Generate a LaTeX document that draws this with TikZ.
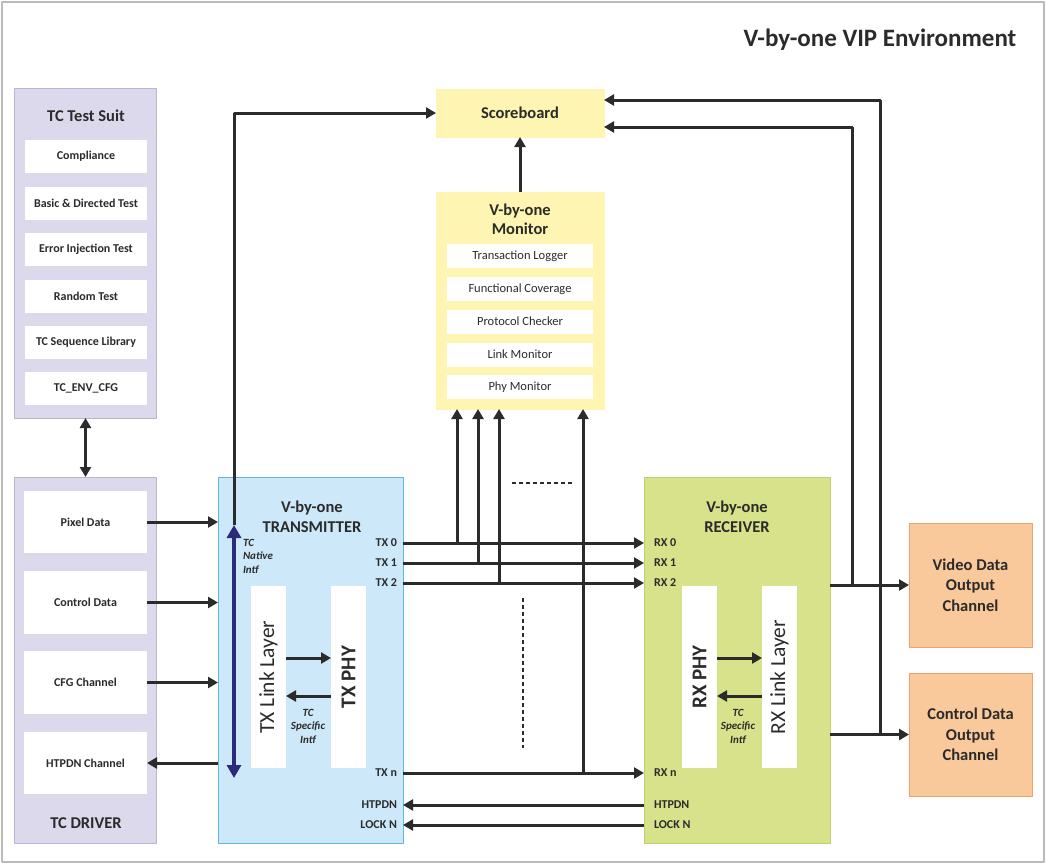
\documentclass[tikz,border=0pt]{standalone}
\usepackage{fontspec}
\setmainfont{Carlito}
\usetikzlibrary{arrows.meta}

\definecolor{framegray}{HTML}{BBBBBB}
\definecolor{linedark}{HTML}{2B2B2B}
\definecolor{suitefill}{HTML}{DCD9ED}
\definecolor{suiteline}{HTML}{BAB4D6}
\definecolor{txfill}{HTML}{CDE8F8}
\definecolor{txline}{HTML}{62B5DD}
\definecolor{rxfill}{HTML}{D7E28A}
\definecolor{rxline}{HTML}{C0D169}
\definecolor{sbfill}{HTML}{FDF5B1}
\definecolor{outfill}{HTML}{F9C89B}
\definecolor{outline}{HTML}{E8A46C}
\definecolor{natblue}{HTML}{2C2A7C}

\begin{document}
\begin{tikzpicture}[x=1bp, y=1bp, line join=round,
  grpbox/.style={draw, line width=1bp, inner sep=0pt, outer sep=0pt},
  wbox/.style={fill=white, inner sep=0pt, outer sep=0pt, text=linedark,
    font=\bfseries\fontsize{12bp}{14bp}\selectfont},
  mbox/.style={wbox, minimum width=146bp, minimum height=24bp,
    font=\fontsize{12.5bp}{14bp}\selectfont},
  hdr/.style={inner sep=0pt, outer sep=0pt, align=center, text=linedark,
    font=\bfseries\fontsize{16.5bp}{20bp}\selectfont},
  pin/.style={inner sep=0pt, outer sep=0pt, text=linedark,
    font=\bfseries\fontsize{12bp}{14bp}\selectfont},
  intf/.style={inner sep=0pt, outer sep=0pt, text=linedark,
    font=\bfseries\itshape\fontsize{11bp}{13.5bp}\selectfont},
  layer/.style={fill=white, inner sep=0pt, outer sep=0pt, minimum width=35bp,
    minimum height=182bp, text=linedark},
  arr/.style={draw=linedark, line width=3bp, -{Triangle[length=10bp, width=11bp]}},
  dblarr/.style={draw=linedark, line width=3bp,
    {Triangle[length=10bp, width=11bp]}-{Triangle[length=10bp, width=11bp]}},
  dotline/.style={draw=linedark, line width=1.5bp, dash pattern=on 4bp off 3bp}]
  \useasboundingbox (0,0) rectangle (1048,-866);
  \path[draw=framegray, line width=1.5bp] (2,-2) rectangle (1044,-862);

  % title
  \node[inner sep=0pt, text=linedark, font=\bfseries\fontsize{25bp}{30bp}\selectfont] (ttl) at (880,-40) {V-by-one VIP Environment};

  % test suite
  \node[grpbox, fill=suitefill, draw=suiteline, minimum width=141bp, minimum height=329bp] (suite) at (85.5,-253.5) {};
  \node[hdr] (suitet) at (86,-116) {TC Test Suit};
  \node[wbox, minimum width=122bp, minimum height=33bp] (cmp) at (86,-156.5) {Compliance};
  \node[wbox, minimum width=122bp, minimum height=33bp] (bdt) at (86,-203.5) {Basic \& Directed Test};
  \node[wbox, minimum width=122bp, minimum height=33bp] (eit) at (86,-249.5) {Error Injection Test};
  \node[wbox, minimum width=122bp, minimum height=33bp] (rnd) at (86,-296) {Random Test};
  \node[wbox, minimum width=122bp, minimum height=33bp] (seq) at (86,-342.5) {TC Sequence Library};
  \node[wbox, minimum width=122bp, minimum height=33bp] (env) at (86,-388.5) {TC\_ENV\_CFG};

  % driver
  \node[grpbox, fill=suitefill, draw=suiteline, minimum width=141bp, minimum height=366bp] (drv) at (85.5,-660) {};
  \node[hdr] (drvt) at (86,-823) {TC DRIVER};
  \node[wbox, minimum width=123bp, minimum height=62bp] (pix) at (85.5,-522) {Pixel Data};
  \node[wbox, minimum width=123bp, minimum height=63bp] (ctd) at (85.5,-602.5) {Control Data};
  \node[wbox, minimum width=123bp, minimum height=63bp] (cfg) at (85.5,-682.5) {CFG Channel};
  \node[wbox, minimum width=123bp, minimum height=62bp] (hpd) at (85.5,-763) {HTPDN Channel};

  % transmitter
  \node[grpbox, fill=txfill, draw=txline, minimum width=185bp, minimum height=366bp] (tx) at (310.5,-660) {};
  \node[hdr] (txt) at (312,-517) {V-by-one\\TRANSMITTER};
  \node[layer] (txlink) at (268.5,-677) {};
  \node[rotate=90, inner sep=0pt, text=linedark, font=\fontsize{21.5bp}{24bp}\selectfont] at (txlink) {TX Link Layer};
  \node[layer] (txphy) at (348.5,-677) {};
  \node[rotate=90, inner sep=0pt, text=linedark, font=\bfseries\fontsize{21bp}{24bp}\selectfont] at (txphy) {TX PHY};
  \node[intf, anchor=north west, align=left] (natl) at (243,-539) {TC\\Native\\Intf};
  \node[intf, align=center] (txsp) at (308,-726) {TC\\Specific\\Intf};
  \node[pin, anchor=east] (tx0) at (397,-543) {TX 0};
  \node[pin, anchor=east] (tx1) at (397,-563) {TX 1};
  \node[pin, anchor=east] (tx2) at (397,-583) {TX 2};
  \node[pin, anchor=east] (txn) at (397,-773) {TX n};
  \node[pin, anchor=east] (txh) at (397,-805) {HTPDN};
  \node[pin, anchor=east] (txk) at (397,-825) {LOCK N};

  % receiver
  \node[grpbox, fill=rxfill, draw=rxline, minimum width=186bp, minimum height=366bp] (rx) at (737,-660) {};
  \node[hdr] (rxt) at (737,-517) {V-by-one\\RECEIVER};
  \node[layer] (rxphy) at (699.5,-677) {};
  \node[rotate=90, inner sep=0pt, text=linedark, font=\bfseries\fontsize{21bp}{24bp}\selectfont] at (rxphy) {RX PHY};
  \node[layer] (rxlink) at (779.5,-677) {};
  \node[rotate=90, inner sep=0pt, text=linedark, font=\fontsize{21.5bp}{24bp}\selectfont] at (rxlink) {RX Link Layer};
  \node[intf, align=center] (rxsp) at (738,-726) {TC\\Specific\\Intf};
  \node[pin, anchor=west] (rx0) at (654,-543) {RX 0};
  \node[pin, anchor=west] (rx1) at (654,-563) {RX 1};
  \node[pin, anchor=west] (rx2) at (654,-583) {RX 2};
  \node[pin, anchor=west] (rxn) at (654,-773) {RX n};
  \node[pin, anchor=west] (rxh) at (654,-805) {HTPDN};
  \node[pin, anchor=west] (rxk) at (654,-825) {LOCK N};

  % scoreboard and monitor
  \node[grpbox, fill=sbfill, draw=sbfill, minimum width=168bp, minimum height=48bp, text=linedark,
    font=\bfseries\fontsize{16.5bp}{20bp}\selectfont] (sb) at (520,-113) {Scoreboard};
  \node[grpbox, fill=sbfill, draw=sbfill, minimum width=168bp, minimum height=217bp] (mon) at (520,-300.5) {};
  \node[hdr, font=\bfseries\fontsize{16.5bp}{19bp}\selectfont] (mont) at (520,-219.5) {V-by-one\\Monitor};
  \node[mbox] (tlog) at (520,-256) {Transaction Logger};
  \node[mbox] (fcov) at (520,-289) {Functional Coverage};
  \node[mbox] (pchk) at (520,-321.5) {Protocol Checker};
  \node[mbox] (lmon) at (520,-354.5) {Link Monitor};
  \node[mbox] (pmon) at (520,-387) {Phy Monitor};

  % output channels
  \node[grpbox, fill=outfill, draw=outline, minimum width=123bp, minimum height=124bp, align=center,
    text=linedark, font=\bfseries\fontsize{16.5bp}{20.5bp}\selectfont] (vid) at (970.5,-585) {Video Data\\Output\\Channel};
  \node[grpbox, fill=outfill, draw=outline, minimum width=123bp, minimum height=123bp, align=center,
    text=linedark, font=\bfseries\fontsize{16.5bp}{20.5bp}\selectfont] (ctl) at (970.5,-734.5) {Control Data\\Output\\Channel};

  % driver side
  \draw[dblarr] (suite.south) -- (drv.north);
  \draw[arr] (pix.east) -- (pix.east -| tx.west);
  \draw[arr] (ctd.east) -- (ctd.east -| tx.west);
  \draw[arr] (cfg.east) -- (cfg.east -| tx.west);
  \draw[arr] (hpd.east -| tx.west) -- (hpd.east);

  % native interface
  \coordinate (ntop) at (234,-525);
  \coordinate (nbot) at (234,-778);
  \draw[arr] (ntop) |- (sb.west);
  \draw[natblue, line width=4.5bp, {Triangle[length=13bp, width=14bp]}-{Triangle[length=13bp, width=14bp]}] (nbot) -- (ntop);

  % layer links
  \draw[arr] ([yshift=19bp]txlink.east) -- ([yshift=19bp]txphy.west);
  \draw[arr] ([yshift=-19bp]txphy.west) -- ([yshift=-19bp]txlink.east);
  \draw[arr] ([yshift=19bp]rxphy.east) -- ([yshift=19bp]rxlink.west);
  \draw[arr] ([yshift=-19bp]rxlink.west) -- ([yshift=-19bp]rxphy.east);

  % lanes
  \draw[arr] (tx.east |- tx0) -- (rx.west |- tx0);
  \draw[arr] (tx.east |- tx1) -- (rx.west |- tx1);
  \draw[arr] (tx.east |- tx2) -- (rx.west |- tx2);
  \draw[arr] (tx.east |- txn) -- (rx.west |- txn);
  \draw[arr] (rx.west |- txh) -- (tx.east |- txh);
  \draw[arr] (rx.west |- txk) -- (tx.east |- txk);

  % monitor taps
  \coordinate (tap0) at (457,-543);
  \coordinate (tap1) at (478,-563);
  \coordinate (tap2) at (499,-583);
  \coordinate (tapn) at (583,-773);
  \draw[arr] (tap0) -- (tap0 |- mon.south);
  \draw[arr] (tap1) -- (tap1 |- mon.south);
  \draw[arr] (tap2) -- (tap2 |- mon.south);
  \draw[arr] (tapn) -- (tapn |- mon.south);
  \draw[arr] (mon.north) -- (sb.south);
  \draw[dotline] (512,-483) -- (572,-483);
  \draw[dotline] (523,-598) -- (523,-748);

  % outputs
  \draw[arr] (rx.east |- vid.west) -- (vid.west);
  \draw[arr] (rx.east |- ctl.west) -- (ctl.west);
  \coordinate (jv) at (852,-585);
  \coordinate (jc) at (880,-734.5);
  \draw[arr] (jv) |- ([yshift=-14bp]sb.east);
  \draw[arr] (jc) |- ([yshift=13bp]sb.east);
\end{tikzpicture}
\end{document}
